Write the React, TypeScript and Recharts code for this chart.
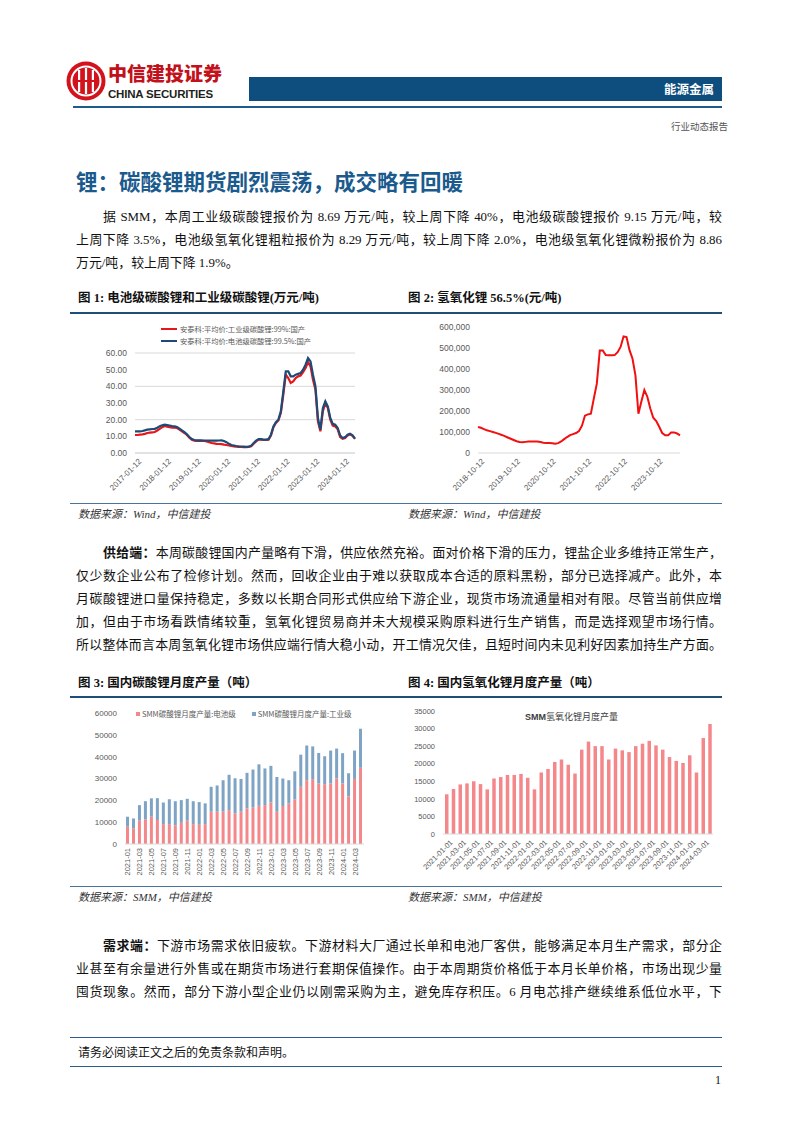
import React from 'react';
import { LineChart, Line, BarChart, Bar, XAxis, YAxis, CartesianGrid } from 'recharts';

// month sequence used as category labels
function monthSeq(y0: number, m0: number, n: number, day?: string): string[] {
  const out: string[] = [];
  for (let i = 0; i < n; i++) {
    const t = m0 - 1 + i;
    const y = y0 + Math.floor(t / 12);
    const m = (t % 12) + 1;
    out.push(`${y}-${String(m).padStart(2, '0')}${day ? '-' + day : ''}`);
  }
  return out;
}

// 图1 碳酸锂价格 (万元/吨), monthly 2017-01 .. 2024-06
const carbDates = monthSeq(2017, 1, 90, '12');
const batteryGrade = [
  13.0, 13.0, 13.0, 13.2, 13.6, 14.0, 14.2, 14.4, 14.5, 15.2, 16.0, 16.6,
  17.0, 16.8, 16.5, 16.2, 16.0, 15.6, 14.6, 13.6, 12.6, 11.2, 9.6, 8.4,
  7.8, 7.6, 7.6, 7.6, 7.5, 7.5, 7.5, 7.4, 7.4, 7.4, 7.5, 7.6,
  7.2, 6.5, 5.5, 4.8, 4.5, 4.2, 4.0, 3.9, 3.8, 3.7, 3.8, 4.4,
  6.0, 7.4, 8.4, 8.3, 8.0, 8.0, 8.3, 11.0, 16.0, 18.5, 20.0, 25.0,
  37.0, 49.0, 49.0, 46.0, 46.0, 47.0, 47.5, 48.0, 50.0, 53.0, 57.0, 55.0,
  47.0, 40.0, 21.0, 14.0, 27.0, 31.0, 28.0, 21.0, 17.5, 17.0, 15.0, 10.5,
  9.0, 9.5, 11.0, 11.6, 10.6, 8.6,
];
const industrialGrade = [
  10.8, 10.8, 11.0, 11.2, 11.5, 12.0, 12.2, 12.4, 12.6, 13.5, 14.5, 15.5,
  16.2, 15.8, 15.5, 15.2, 15.2, 15.0, 14.0, 13.0, 12.0, 10.8, 9.2, 8.0,
  7.4, 7.3, 7.3, 7.2, 7.2, 7.0, 6.5, 6.0, 5.8, 5.5, 5.4, 5.3,
  5.0, 4.8, 4.5, 4.2, 4.0, 3.8, 3.7, 3.6, 3.5, 3.5, 3.6, 4.1,
  5.6, 7.0, 8.0, 8.0, 7.8, 7.8, 8.0, 10.5, 15.5, 18.0, 19.5, 24.0,
  35.0, 47.0, 45.0, 42.0, 43.0, 45.0, 46.0, 46.5, 48.5, 51.0, 54.5, 52.0,
  44.0, 38.0, 19.0, 13.0, 25.0, 30.0, 27.0, 20.0, 16.5, 16.0, 14.2, 9.5,
  8.5, 9.0, 10.5, 11.2, 10.3, 8.5,
];
const carbTicks = [0, 10, 20, 30, 40, 50, 60];

// 图2 氢氧化锂 56.5% (元/吨), monthly 2018-10 .. 2024-06
const hydDates = monthSeq(2018, 10, 69, '12');
const hydPrice = [
  124000, 120000, 114000, 108000, 104000, 100000, 96000, 91000, 86000, 80000, 74000, 68000,
  62000, 56000, 52000, 51000, 53000, 55000, 55000, 55000, 55000, 52000, 49000, 48000,
  48000, 46000, 44000, 47000, 55000, 66000, 76000, 85000, 90000, 95000, 105000, 130000,
  178000, 184000, 187000, 260000, 330000, 488000, 488000, 466000, 465000, 465000, 466000, 480000,
  505000, 555000, 552000, 490000, 450000, 370000, 187000, 245000, 300000, 268000, 212000, 168000,
  152000, 125000, 95000, 84000, 84000, 98000, 98000, 93000, 84000,
];
const hydTicks = [0, 100000, 200000, 300000, 400000, 500000, 600000];

// 图3 碳酸锂月度产量 (吨), 2021-01 .. 2024-04
const prodMonths = monthSeq(2021, 1, 40);
const carbBattery = [
  7900, 7200, 10700, 11300, 12500, 11000, 9100, 9100, 8500, 9700, 10700, 9100,
  8800, 9100, 14800, 14800, 14800, 15500, 14000, 14800, 16300, 16700, 17500, 17800,
  19000, 14800, 17400, 18600, 20400, 26200, 29200, 29700, 27700, 27400, 27700, 30000,
  27700, 21800, 29800, 34900,
];
const carbIndustrial = [
  4600, 4500, 7100, 8300, 8400, 10000, 9900, 11400, 11100, 10400, 10000, 10500,
  10400, 9500, 11400, 12000, 14400, 16200, 16100, 15000, 16300, 17400, 19000, 16800,
  16800, 15900, 12600, 10600, 12900, 14700, 15900, 15000, 14000, 12800, 15100, 13700,
  13900, 10600, 13000, 17900,
];
const prodTicks3 = [0, 10000, 20000, 30000, 40000, 50000, 60000];

// 图4 氢氧化锂月度产量 (吨)
const hydMonths = monthSeq(2021, 1, 40, '01');
const hydOutput = [
  11300, 12800, 14100, 14400, 15000, 14200, 12700, 15800, 16200, 16800, 16800, 17100,
  16000, 12700, 17500, 18500, 20500, 21200, 19700, 17200, 24000, 26300, 25000, 25000,
  21200, 24300, 23800, 23300, 25000, 25700, 26500, 25200, 24000, 21900, 20800, 20200,
  22400, 17500, 27300, 31300,
];
const prodTicks4 = [0, 5000, 10000, 15000, 20000, 25000, 30000, 35000];

const chart1Data = carbDates.map((d, i) => ({ date: d, industrial: industrialGrade[i], battery: batteryGrade[i] }));
const chart2Data = hydDates.map((d, i) => ({ date: d, price: hydPrice[i] }));
const chart3Data = prodMonths.map((d, i) => ({ month: d, battery: carbBattery[i], industrial: carbIndustrial[i] }));
const chart4Data = hydMonths.map((d, i) => ({ month: d, output: hydOutput[i] }));

const AXIS_GRAY = '#595959';
const SANS = '"Liberation Sans", Arial, "Noto Sans CJK SC", sans-serif';
const BODY = '"Liberation Serif", "Noto Sans CJK SC", serif';
const CJK = '"Noto Sans CJK SC", sans-serif';

function SlantTick(props: any) {
  const { x, y, payload, fontSize = 8 } = props;
  return (
    <text
      x={x + 3}
      y={y - 3}
      transform={`rotate(-45, ${x + 3}, ${y - 3})`}
      textAnchor="end"
      dominantBaseline="hanging"
      fontSize={fontSize}
      fill={AXIS_GRAY}
    >
      {payload.value}
    </text>
  );
}

function UprightTick(props: any) {
  const { x, y, payload } = props;
  return (
    <text
      x={x}
      y={y - 4}
      transform={`rotate(-90, ${x}, ${y - 4})`}
      textAnchor="end"
      dominantBaseline="central"
      fontSize={7.5}
      fill={AXIS_GRAY}
    >
      {payload.value}
    </text>
  );
}

function Line1({ x, y, w, children, justify = true, size = 12.9 }: any) {
  return (
    <div
      style={{
        position: 'absolute',
        left: x,
        top: y - 11,
        width: w,
        height: 22,
        lineHeight: '22px',
        fontSize: size,
        textAlign: justify ? 'justify' : 'left',
        textAlignLast: justify ? 'justify' : 'auto',
        color: '#111',
      }}
    >
      {children}
    </div>
  );
}

function Abs({ x, y, children, style }: any) {
  return <div style={{ position: 'absolute', left: x, top: y, whiteSpace: 'nowrap', ...style }}>{children}</div>;
}

function HRule({ y, h = 1, color = '#2e5f8c', x = 70, w = 652 }: any) {
  return <div style={{ position: 'absolute', left: x, top: y, width: w, height: h, background: color }} />;
}

export default function App() {
  const capStyle = { fontFamily: BODY, fontWeight: 700, fontSize: 12.5, color: '#111', lineHeight: '16px' };
  const srcStyle = { fontFamily: BODY, fontStyle: 'italic', fontSize: 11, color: '#333', lineHeight: '14px' };

  return (
    <div style={{ position: 'absolute', left: 0, top: 0, width: 802, height: 1133, background: '#fff', fontFamily: BODY, overflow: 'hidden' }}>
      {/* header */}
      <svg width={42} height={42} style={{ position: 'absolute', left: 65, top: 60 }}>
        <circle cx={21} cy={21} r={19.5} fill="#d2121c" />
        <circle cx={21} cy={21} r={14.5} fill="none" stroke="#fff" strokeWidth={2} />
        <rect x={13} y={10} width={2.2} height={22} fill="#fff" />
        <rect x={19.9} y={8} width={2.2} height={26} fill="#fff" />
        <rect x={26.8} y={10} width={2.2} height={22} fill="#fff" />
        <rect x={9} y={20} width={24} height={2} fill="#d2121c" />
      </svg>
      <Abs x={108} y={61} style={{ fontFamily: CJK, fontWeight: 900, fontSize: 19, color: '#c1121c', letterSpacing: 0, lineHeight: '24px' }}>中信建投证券</Abs>
      <Abs x={108} y={87} style={{ fontFamily: SANS, fontWeight: 700, fontSize: 11.5, color: '#231f20', lineHeight: '14px', letterSpacing: -0.2 }}>CHINA SECURITIES</Abs>
      <div style={{ position: 'absolute', left: 249, top: 77, width: 473, height: 24, background: '#0d4e7e' }} />
      <Abs x={664} y={80} style={{ fontFamily: CJK, fontWeight: 700, fontSize: 12.5, color: '#fff', lineHeight: '18px' }}>能源金属</Abs>
      <HRule y={106} h={1.5} x={73} w={649} color="#1e5a8a" />
      <Abs x={671} y={119} style={{ fontFamily: CJK, fontSize: 9.5, color: '#555', lineHeight: '14px' }}>行业动态报告</Abs>

      {/* title */}
      <Abs x={76} y={168} style={{ fontFamily: CJK, fontWeight: 700, fontSize: 21.5, color: '#1b5a8d', lineHeight: '26px' }}>
        锂：碳酸锂期货剧烈震荡，成交略有回暖
      </Abs>

      <Line1 x={103} y={217} w={619}>据 SMM，本周工业级碳酸锂报价为 8.69 万元/吨，较上周下降 40%，电池级碳酸锂报价 9.15 万元/吨，较</Line1>
      <Line1 x={76} y={240} w={646}>上周下降 3.5%，电池级氢氧化锂粗粒报价为 8.29 万元/吨，较上周下降 2.0%，电池级氢氧化锂微粉报价为 8.86</Line1>
      <Line1 x={76} y={263} w={646} justify={false}>万元/吨，较上周下降 1.9%。</Line1>

      {/* figure 1 & 2 captions */}
      <Abs x={78} y={290} style={capStyle}>图 1: 电池级碳酸锂和工业级碳酸锂(万元/吨)</Abs>
      <Abs x={408} y={290} style={capStyle}>图 2: 氢氧化锂 56.5%(元/吨)</Abs>
      <HRule y={312} h={2} color="#1f4e79" />

      {/* chart 1 */}
      <div style={{ position: 'absolute', left: 78, top: 315, fontFamily: SANS }}>
        <LineChart width={300} height={185} data={chart1Data} margin={{ top: 38, right: 23, bottom: 0, left: 0 }}>
          <CartesianGrid vertical={false} stroke="#d9d9d9" />
          <XAxis
            dataKey="date"
            interval={11}
            height={47}
            tickLine={false}
            axisLine={{ stroke: '#d9d9d9' }}
            tick={<SlantTick fontSize={8} />}
          />
          <YAxis
            domain={[0, 60]}
            ticks={carbTicks}
            width={57}
            axisLine={false}
            tickLine={false}
            tickFormatter={(v: number) => v.toFixed(2)}
            tick={{ fontSize: 8.5, fill: AXIS_GRAY }}
          />
          <Line type="linear" dataKey="industrial" stroke="#e8161b" strokeWidth={2.2} dot={false} isAnimationActive={false} />
          <Line type="linear" dataKey="battery" stroke="#1d4b78" strokeWidth={2.2} dot={false} isAnimationActive={false} />
        </LineChart>
        <div style={{ position: 'absolute', left: 83, top: 8, fontFamily: CJK, fontSize: 7.3, color: AXIS_GRAY, lineHeight: '12px' }}>
          <div style={{ display: 'flex', alignItems: 'center' }}>
            <span style={{ display: 'inline-block', width: 16, height: 2, background: '#e8161b', marginRight: 3 }} />
            安泰科:平均价:工业级碳酸锂:99%:国产
          </div>
          <div style={{ display: 'flex', alignItems: 'center' }}>
            <span style={{ display: 'inline-block', width: 16, height: 2, background: '#1d4b78', marginRight: 3 }} />
            安泰科:平均价:电池级碳酸锂:99.5%:国产
          </div>
        </div>
      </div>

      {/* chart 2 */}
      <div style={{ position: 'absolute', left: 405, top: 315, fontFamily: SANS }}>
        <LineChart width={317} height={185} data={chart2Data} margin={{ top: 12, right: 42, bottom: 0, left: 0 }}>
          <XAxis
            dataKey="date"
            interval={11}
            height={47}
            tickLine={false}
            axisLine={{ stroke: '#d9d9d9' }}
            tick={<SlantTick fontSize={8} />}
          />
          <YAxis
            domain={[0, 600000]}
            ticks={hydTicks}
            width={73}
            axisLine={false}
            tickLine={false}
            tickFormatter={(v: number) => v.toLocaleString('en-US')}
            tick={{ fontSize: 8.5, fill: AXIS_GRAY }}
          />
          <Line type="linear" dataKey="price" stroke="#f20f0f" strokeWidth={2} dot={false} isAnimationActive={false} />
        </LineChart>
      </div>

      <HRule y={503} h={1} color="#4a739b" />
      <Abs x={78} y={507} style={srcStyle}>数据来源：Wind，中信建投</Abs>
      <Abs x={408} y={507} style={srcStyle}>数据来源：Wind，中信建投</Abs>

      {/* supply paragraph */}
      <Line1 x={103} y={553} w={619}><b>供给端：</b>本周碳酸锂国内产量略有下滑，供应依然充裕。面对价格下滑的压力，锂盐企业多维持正常生产，</Line1>
      <Line1 x={76} y={576} w={646}>仅少数企业公布了检修计划。然而，回收企业由于难以获取成本合适的原料黑粉，部分已选择减产。此外，本</Line1>
      <Line1 x={76} y={599} w={646}>月碳酸锂进口量保持稳定，多数以长期合同形式供应给下游企业，现货市场流通量相对有限。尽管当前供应增</Line1>
      <Line1 x={76} y={622} w={646}>加，但由于市场看跌情绪较重，氢氧化锂贸易商并未大规模采购原料进行生产销售，而是选择观望市场行情。</Line1>
      <Line1 x={76} y={645} w={646}>所以整体而言本周氢氧化锂市场供应端行情大稳小动，开工情况欠佳，且短时间内未见利好因素加持生产方面。</Line1>

      {/* figure 3 & 4 captions */}
      <Abs x={78} y={675} style={capStyle}>图 3: 国内碳酸锂月度产量（吨）</Abs>
      <Abs x={408} y={675} style={capStyle}>图 4: 国内氢氧化锂月度产量（吨）</Abs>
      <HRule y={696} h={2} color="#1f4e79" />

      {/* chart 3 */}
      <div style={{ position: 'absolute', left: 78, top: 700, fontFamily: SANS }}>
        <BarChart width={300} height={180} data={chart3Data} margin={{ top: 13, right: 14, bottom: 0, left: 0 }}>
          <XAxis dataKey="month" interval={1} height={36} tickLine={false} axisLine={{ stroke: '#d9d9d9' }} tick={<UprightTick />} />
          <YAxis
            domain={[0, 60000]}
            ticks={prodTicks3}
            width={47}
            axisLine={false}
            tickLine={false}
            tick={{ fontSize: 8, fill: AXIS_GRAY }}
          />
          <Bar dataKey="battery" stackId="a" fill="#f4878a" barSize={3} isAnimationActive={false} />
          <Bar dataKey="industrial" stackId="a" fill="#7ea3c4" barSize={3} isAnimationActive={false} />
        </BarChart>
        <div style={{ position: 'absolute', left: 58, top: 9, display: 'flex', alignItems: 'center', fontFamily: CJK, fontSize: 7.5, color: AXIS_GRAY, lineHeight: '10px' }}>
          <span style={{ display: 'inline-block', width: 4, height: 4, background: '#f4878a', marginRight: 2 }} />
          <span style={{ marginRight: 16 }}>SMM碳酸锂月度产量:电池级</span>
          <span style={{ display: 'inline-block', width: 4, height: 4, background: '#7ea3c4', marginRight: 2 }} />
          <span>SMM碳酸锂月度产量:工业级</span>
        </div>
      </div>

      {/* chart 4 */}
      <div style={{ position: 'absolute', left: 405, top: 700, fontFamily: SANS }}>
        <BarChart width={317} height={180} data={chart4Data} margin={{ top: 11, right: 9, bottom: 0, left: 0 }}>
          <XAxis dataKey="month" interval={1} height={46} tickLine={false} axisLine={{ stroke: '#d9d9d9' }} tick={<SlantTick fontSize={7.5} />} />
          <YAxis
            domain={[0, 35000]}
            ticks={prodTicks4}
            width={38}
            axisLine={false}
            tickLine={false}
            tick={{ fontSize: 7.5, fill: AXIS_GRAY }}
          />
          <Bar dataKey="output" fill="#f4878a" barSize={3.5} isAnimationActive={false} />
        </BarChart>
        <div style={{ position: 'absolute', left: 120, top: 11, fontFamily: CJK, fontSize: 9, color: '#404040', lineHeight: '12px' }}>
          <b style={{ fontFamily: SANS }}>SMM</b>氢氧化锂月度产量
        </div>
      </div>

      <HRule y={886} h={1} color="#4a739b" />
      <Abs x={78} y={890} style={srcStyle}>数据来源：SMM，中信建投</Abs>
      <Abs x={408} y={890} style={srcStyle}>数据来源：SMM，中信建投</Abs>

      {/* demand paragraph */}
      <Line1 x={103} y={946} w={619}><b>需求端：</b>下游市场需求依旧疲软。下游材料大厂通过长单和电池厂客供，能够满足本月生产需求，部分企</Line1>
      <Line1 x={76} y={969} w={646}>业甚至有余量进行外售或在期货市场进行套期保值操作。由于本周期货价格低于本月长单价格，市场出现少量</Line1>
      <Line1 x={76} y={992} w={646}>囤货现象。然而，部分下游小型企业仍以刚需采购为主，避免库存积压。6 月电芯排产继续维系低位水平，下</Line1>

      {/* footer */}
      <HRule y={1037} h={1} color="#2e5f8c" />
      <Abs x={78} y={1045} style={{ fontFamily: BODY, fontSize: 12, color: '#111', lineHeight: '16px' }}>请务必阅读正文之后的免责条款和声明。</Abs>
      <HRule y={1066} h={1} color="#2e5f8c" />
      <Abs x={715} y={1072} style={{ fontFamily: BODY, fontSize: 12, color: '#111', lineHeight: '16px' }}>1</Abs>
    </div>
  );
}
